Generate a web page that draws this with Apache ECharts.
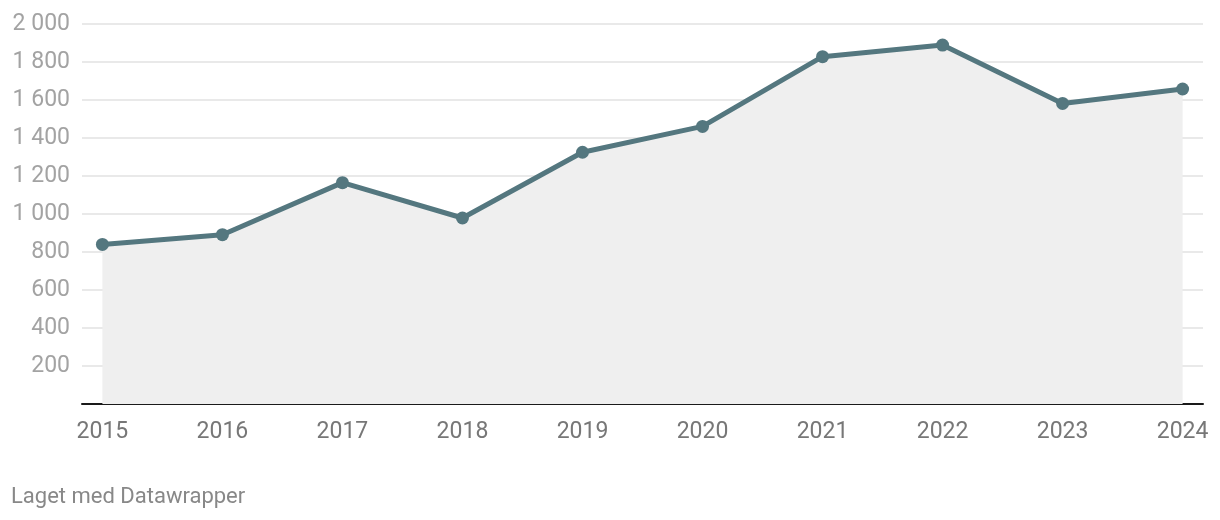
<!DOCTYPE html>
<html>
<head>
<meta charset="utf-8">
<script src="https://cdn.jsdelivr.net/npm/echarts@6/dist/echarts.min.js"></script>
<style>
html,body{margin:0;padding:0;background:#fff;}
#chart{width:1220px;height:520px;}
</style>
</head>
<body>
<div id="chart"></div>
<script>
const years = [2015, 2016, 2017, 2018, 2019, 2020, 2021, 2022, 2023, 2024];
const values = [840, 891, 1165, 979, 1325, 1461, 1828, 1889, 1582, 1658];
const yTicks = [200, 400, 600, 800, 1000, 1200, 1400, 1600, 1800, 2000];
const footer = 'Laget med Datawrapper';

function fmt(v) {
  return String(v).replace(/\B(?=(\d{3})+(?!\d))/g, ' ');
}

const chart = echarts.init(document.getElementById('chart'), null, {renderer: 'canvas'});
chart.setOption({
  animation: false,
  backgroundColor: '#ffffff',
  textStyle: {fontFamily: 'Roboto'},
  graphic: [{
    type: 'text', left: 11, top: 486,
    style: {text: footer, fontFamily: 'Roboto', fontSize: 22, fill: '#888888'}
  }],
  grid: {left: 82, right: 17, top: 24, bottom: 116, containLabel: false},
  xAxis: {
    type: 'value',
    min: 2014.83, max: 2024.17,
    axisLine: {show: true, onZero: false, lineStyle: {color: '#1a1a1a', width: 2}},
    axisTick: {show: false},
    splitLine: {show: false},
    axisLabel: {
      customValues: years,
      color: '#777777', fontSize: 23, fontFamily: 'Roboto', margin: 17,
      formatter: v => String(Math.round(v))
    }
  },
  yAxis: {
    type: 'value', min: 0, max: 2000, interval: 200,
    axisLine: {show: false}, axisTick: {show: false},
    splitLine: {show: true, lineStyle: {color: '#e2e2e2', width: 1.5}},
    axisLabel: {
      customValues: yTicks,
      color: '#a3a3a3', fontSize: 23, fontFamily: 'Roboto', margin: 12,
      formatter: v => fmt(v)
    }
  },
  series: [{
    type: 'line',
    data: years.map((y, i) => [y, values[i]]),
    symbol: 'circle', symbolSize: 13,
    itemStyle: {color: '#54777f'},
    lineStyle: {color: '#54777f', width: 5},
    areaStyle: {color: '#efefef', opacity: 1},
    z: 3
  }]
});
</script>
</body>
</html>
